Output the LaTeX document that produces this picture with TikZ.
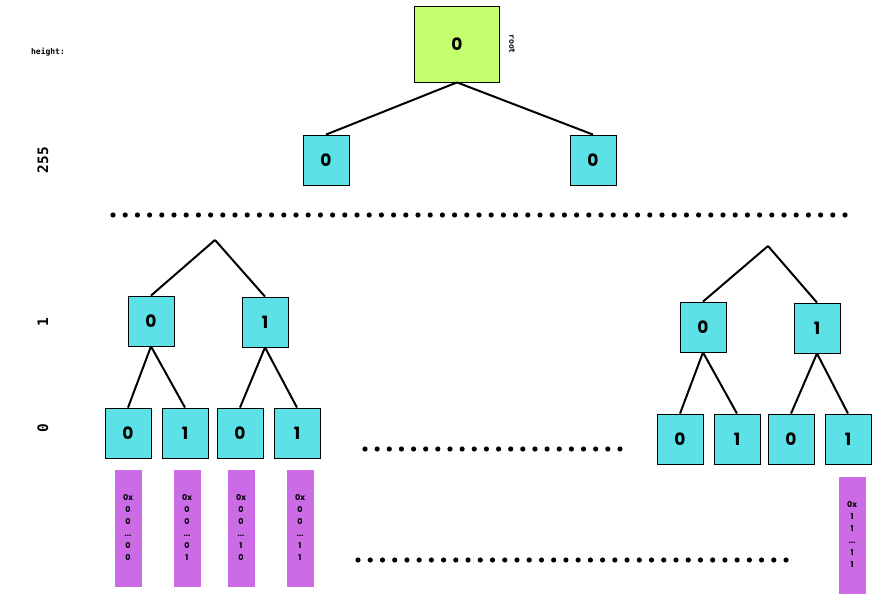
\documentclass[tikz,border=0pt]{standalone}
\usepackage{fontspec}
\setmainfont{Poppins}
\newfontfamily\monofont{DejaVu Sans Mono}
\usetikzlibrary{positioning}
\definecolor{leafcol}{HTML}{5CE1E6}
\definecolor{rootcol}{HTML}{C4FF70}
\definecolor{keycol}{HTML}{CB6CE6}
\tikzset{
  box/.style={draw,thick,fill=leafcol,minimum width=46pt,minimum height=50pt,font=\fontsize{17}{17}\selectfont\bfseries,inner sep=0pt},
  key/.style={fill=keycol,minimum width=27pt,minimum height=117pt,align=center,inner sep=0pt,font=\fontsize{8}{12}\selectfont\bfseries},
  lbl/.style={font=\monofont\bfseries},
  edge/.style={line width=2pt}
}
\begin{document}
\begin{tikzpicture}[x=1pt,y=-1pt]
\useasboundingbox (0,0) rectangle (887,608);
% root and height 255
\node[box,fill=rootcol,minimum width=85pt,minimum height=76pt] (root) at (457,44) {0};
\node[lbl,font=\monofont\bfseries\footnotesize,rotate=-90] (rootlbl) at (512,44) {root};
\node[box] (a) at (326,160) {0};
\node[box] (b) at (593,160) {0};
\draw[edge] (root.south) -- (a.north) (root.south) -- (b.north);
% height labels
\node[lbl,font=\monofont\bfseries\footnotesize] (h) at (48,52) {height:};
\node[lbl,font=\monofont\bfseries\Large,rotate=90] (h255) at (43,160) {255};
\node[lbl,font=\monofont\bfseries\Large,rotate=90] (h1) at (43,322) {1};
\node[lbl,font=\monofont\bfseries\Large,rotate=90] (h0) at (43,428) {0};
% dots
\foreach \i in {0,...,60} \fill (113+\i*12.2,215) circle (2.6pt);
\foreach \i in {0,...,21} \fill (365+\i*12.14,449) circle (2.6pt);
\foreach \i in {0,...,35} \fill (358+\i*12.23,560) circle (2.6pt);
% left subtree
\coordinate (lt) at (215,240);
\node[box] (l0) at (151,321) {0};
\node[box] (l1) at (265,322) {1};
\node[box] (l00) at (128,433) {0};
\node[box] (l01) at (185,433) {1};
\node[box] (l10) at (240,433) {0};
\node[box] (l11) at (297,433) {1};
\draw[edge] (lt) -- (l0.north) (lt) -- (l1.north)
  (l0.south) -- (l00.north) (l0.south) -- (l01.north)
  (l1.south) -- (l10.north) (l1.south) -- (l11.north);
% right subtree
\coordinate (rt) at (768,246);
\node[box] (r0) at (703,327) {0};
\node[box] (r1) at (817,328) {1};
\node[box] (r00) at (680,439) {0};
\node[box] (r01) at (737,439) {1};
\node[box] (r10) at (791,439) {0};
\node[box] (r11) at (848,439) {1};
\draw[edge] (rt) -- (r0.north) (rt) -- (r1.north)
  (r0.south) -- (r00.north) (r0.south) -- (r01.north)
  (r1.south) -- (r10.north) (r1.south) -- (r11.north);
% keys
\node[key] (k00) at (128,528) {0x\\0\\0\\...\\0\\0};
\node[key] (k01) at (187,528) {0x\\0\\0\\...\\0\\1};
\node[key] (k10) at (241,528) {0x\\0\\0\\...\\1\\0};
\node[key] (k11) at (300,528) {0x\\0\\0\\...\\1\\1};
\node[key] (kff) at (852,535) {0x\\1\\1\\...\\1\\1};
\end{tikzpicture}
\end{document}
